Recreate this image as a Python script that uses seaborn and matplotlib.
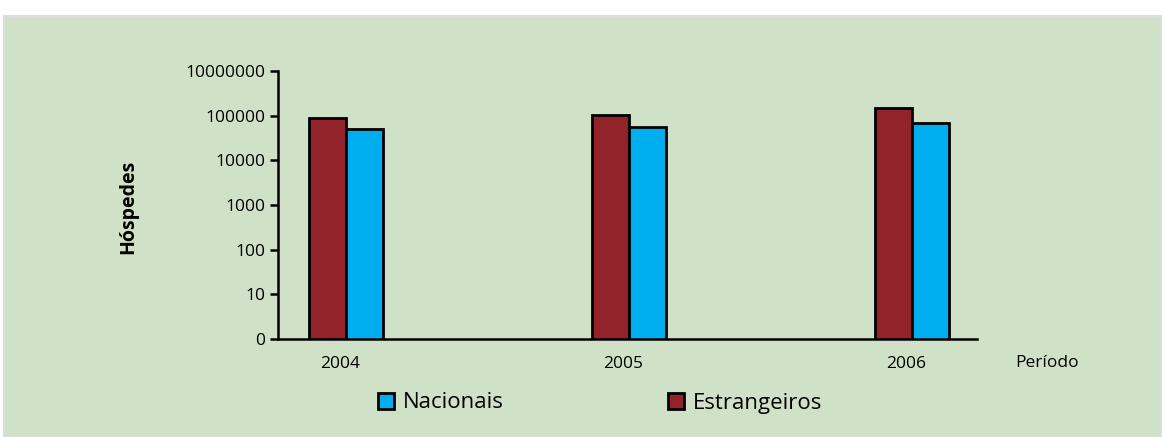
import matplotlib
matplotlib.use("Agg")
import matplotlib.pyplot as plt
import matplotlib.patches as mpatches
import matplotlib.transforms as mtransforms
import seaborn as sns
import pandas as pd

# dados (escala log)
anos = ["2004", "2005", "2006"]
estrangeiros = [88000, 103000, 145000]
nacionais = [50000, 56000, 69000]
yticks = [1, 10, 100, 1000, 10000, 100000, 1000000]
ytick_labels = ["0", "10", "100", "1000", "10000", "100000", "10000000"]

cor_estr = "#92232A"
cor_nac = "#00AEEF"
fundo = "#CFE2C8"

df = pd.DataFrame({
    "Ano": anos * 2,
    "Hospedes": estrangeiros + nacionais,
    "Tipo": ["Estrangeiros"] * 3 + ["Nacionais"] * 3,
})

plt.rcParams["font.family"] = ["Open Sans", "DejaVu Sans"]

fig = plt.figure(figsize=(11.62, 4.37), dpi=100)
fig.patch.set_facecolor("white")
fig.patches.append(mpatches.Rectangle((4 / 1162, 0), 1 - 4 / 1162, 1 - 16 / 437,
                                      transform=fig.transFigure, facecolor=fundo,
                                      edgecolor="#DDDDDD", linewidth=1.5, zorder=-5))

ax = fig.add_axes([278 / 1162, 98 / 437, 699 / 1162, 268 / 437])
ax.set_facecolor("none")
ax.set_zorder(2)

sns.barplot(data=df, x="Ano", y="Hospedes", hue="Tipo", ax=ax,
            palette={"Estrangeiros": cor_estr, "Nacionais": cor_nac},
            hue_order=["Estrangeiros", "Nacionais"], width=0.26, saturation=1,
            edgecolor="black", linewidth=2, legend=False, log_scale=True)

ax.set_yscale("log")
ax.set_ylim(1, 1000000)
ax.set_xlim(-0.24, 2.23)
ax.set_yticks(yticks)
ax.set_yticklabels(ytick_labels)
ax.yaxis.set_minor_locator(matplotlib.ticker.NullLocator())

for s in ["top", "right"]:
    ax.spines[s].set_visible(False)
for s in ["left", "bottom"]:
    ax.spines[s].set_linewidth(1.8)
    ax.spines[s].set_color("black")

ax.tick_params(axis="y", length=6, width=1.8, labelsize=12.5, pad=3, colors="black")
ax.tick_params(axis="x", length=0, labelsize=12.5, pad=12)
desloc = mtransforms.ScaledTranslation(-6 / 100, 0, fig.dpi_scale_trans)
for lbl in ax.get_xticklabels():
    lbl.set_transform(lbl.get_transform() + desloc)
ax.set_xlabel("")
ax.set_ylabel("")

fig.text(128 / 1162, 1 - 207 / 437, "Hóspedes", rotation=90, ha="center", va="center",
         fontsize=14, fontweight="bold")
fig.text(1015 / 1162, 1 - 363 / 437, "Período", ha="left", va="center", fontsize=12.5)

handles = [mpatches.Patch(facecolor=cor_nac, edgecolor="black", linewidth=2, label="Nacionais"),
           mpatches.Patch(facecolor=cor_estr, edgecolor="black", linewidth=2, label="Estrangeiros")]
fig.legend(handles=handles, loc="center", bbox_to_anchor=(600 / 1162, 1 - 403 / 437),
           ncol=2, frameon=False, fontsize=16, handlelength=0.7, handleheight=0.7,
           handletextpad=0.4, columnspacing=7.4)

fig.savefig("out.png", dpi=100, facecolor="white")
